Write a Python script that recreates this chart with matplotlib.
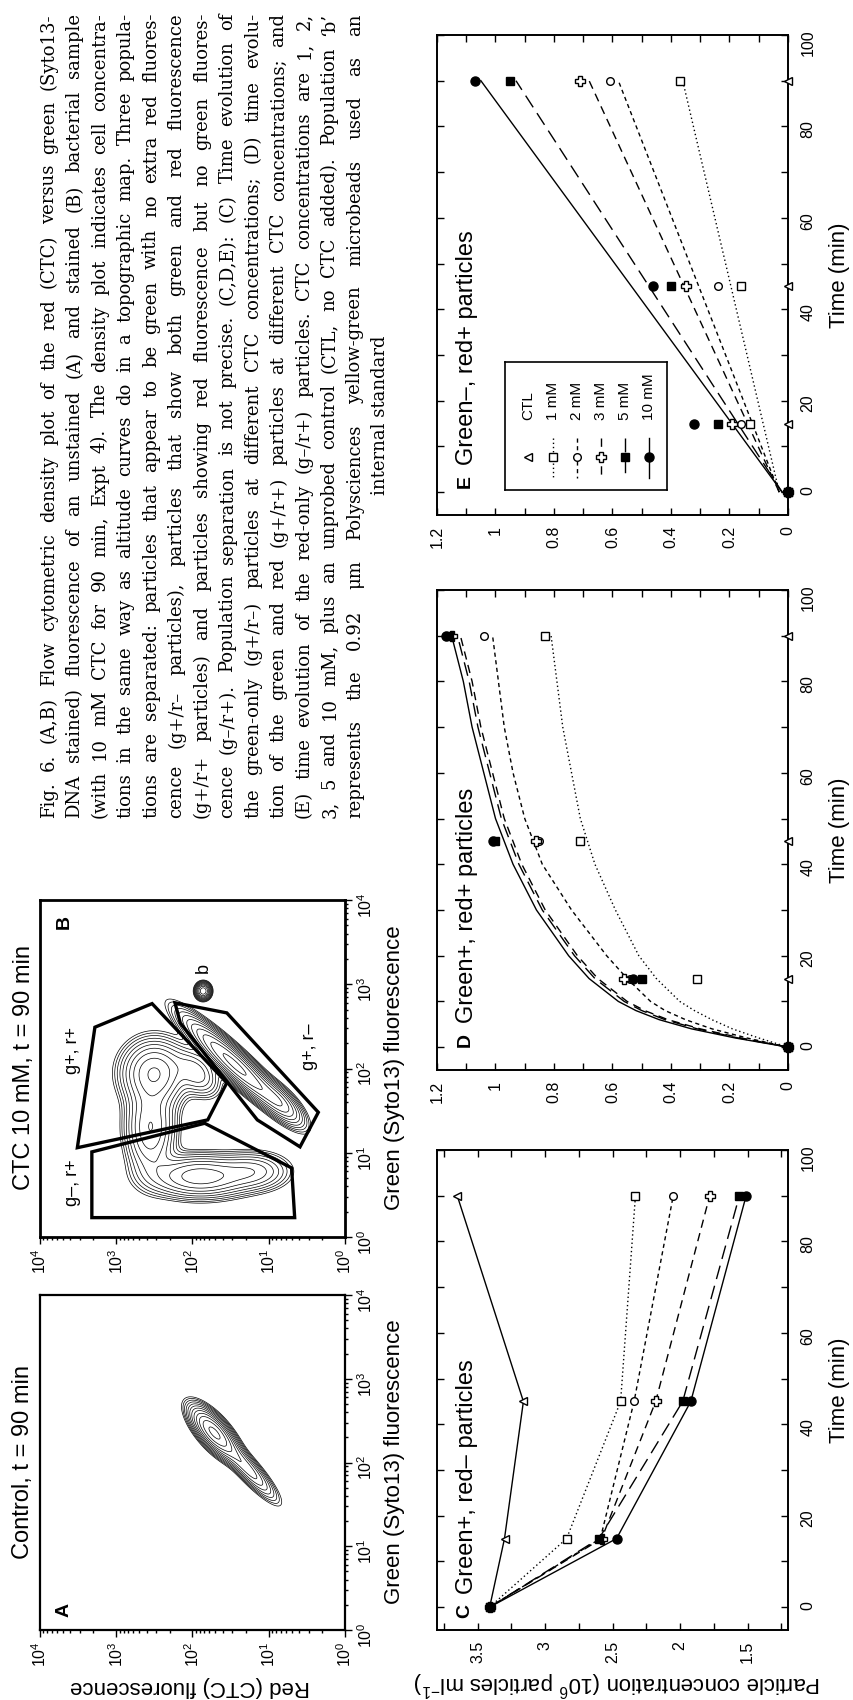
import numpy as np
import matplotlib
matplotlib.use("Agg")
import matplotlib.pyplot as plt
from matplotlib.ticker import MultipleLocator, LogLocator, FuncFormatter, NullFormatter
from matplotlib.font_manager import FontProperties

plt.rcParams['font.family'] = ['Liberation Sans', 'DejaVu Sans']
plt.rcParams['mathtext.fontset'] = 'custom'
plt.rcParams['mathtext.rm'] = 'Liberation Sans'
plt.rcParams['mathtext.it'] = 'Liberation Sans:italic'
plt.rcParams['mathtext.bf'] = 'Liberation Sans:bold'
plt.rcParams['lines.scale_dashes'] = False

# ---------------- data ----------------
series = ['CTL', '1 mM', '2 mM', '3 mM', '5 mM', '10 mM']
times = [0, 15, 45, 90]

# C: green+, red- particles (10^6 particles/ml)
c_ctl = [3.41, 3.30, 3.16, 3.65]
c_1mM = [3.41, 2.84, 2.44, 2.33]
c_2mM = [3.41, 2.59, 2.34, 2.05]
c_3mM = [3.41, 2.58, 2.18, 1.78]
c_5mM = [3.41, 2.60, 1.98, 1.56]
c_10mM = [3.41, 2.47, 1.92, 1.51]

# D: green+, red+ particles
d_ctl = [0, 0, 0, 0]
d_1mM = [0, 0.31, 0.71, 0.83]
d_2mM = [0, 0.54, 0.85, 1.04]
d_3mM = [0, 0.56, 0.86, 1.15]
d_5mM = [0, 0.50, 1.00, 1.16]
d_10mM = [0, 0.53, 1.01, 1.17]
# fitted curves in D
d_fit_t = [0, 2, 4, 6, 8, 10, 15, 20, 30, 40, 50, 60, 70, 80, 90]
d_fit_1mM = [0, 0.10, 0.19, 0.26, 0.32, 0.37, 0.45, 0.51, 0.59, 0.66, 0.71, 0.74, 0.77, 0.79, 0.81]
d_fit_2mM = [0, 0.14, 0.26, 0.35, 0.42, 0.47, 0.55, 0.62, 0.74, 0.84, 0.90, 0.94, 0.97, 0.99, 1.01]
d_fit_3mM = [0, 0.16, 0.30, 0.41, 0.49, 0.55, 0.65, 0.72, 0.83, 0.91, 0.97, 1.01, 1.05, 1.08, 1.12]
d_fit_5mM = [0, 0.17, 0.31, 0.42, 0.50, 0.56, 0.66, 0.73, 0.84, 0.92, 0.98, 1.02, 1.06, 1.09, 1.13]
d_fit_10mM = [0, 0.18, 0.33, 0.44, 0.52, 0.58, 0.68, 0.75, 0.86, 0.94, 1.00, 1.04, 1.08, 1.11, 1.15]

# E: green-, red+ particles
e_ctl = [0, 0, 0, 0]
e_1mM = [0, 0.13, 0.16, 0.37]
e_2mM = [0, 0.16, 0.24, 0.61]
e_3mM = [0, 0.19, 0.35, 0.71]
e_5mM = [0, 0.24, 0.40, 0.95]
e_10mM = [0, 0.32, 0.46, 1.07]
# fitted lines in E
e_fit_t = [0, 90]
e_fit_1mM = [0.03, 0.36]
e_fit_2mM = [0.03, 0.58]
e_fit_3mM = [0.03, 0.68]
e_fit_5mM = [0.02, 0.93]
e_fit_10mM = [0.02, 1.05]

# A/B density components, log10 units: red centre, green centre, sd along, sd across, angle, weight
a_red = [1.72, 1.30]
a_green = [2.36, 1.95]
a_sd_along = [0.20, 0.28]
a_sd_across = [0.08, 0.065]
a_angle = [45, 45]
a_weight = [1.0, 0.30]

b_red = [1.45, 0.85, 1.86, 2.50, 2.55, 1.90, 1.95, 1.20]
b_green = [2.05, 1.60, 2.92, 1.95, 1.30, 0.72, 1.95, 0.78]
b_sd_along = [0.42, 0.20, 0.05, 0.22, 0.30, 0.35, 0.18, 0.25]
b_sd_across = [0.08, 0.08, 0.05, 0.20, 0.17, 0.13, 0.12, 0.12]
b_angle = [40, 40, 0, 0, 90, 0, 40, 0]
b_weight = [1.0, 0.30, 0.60, 0.45, 0.32, 0.40, 0.20, 0.18]

# gates in B (log10 red, log10 green)
gate_gm_rp_red = [3.32, 1.84, 0.70, 0.66, 3.32]
gate_gm_rp_green = [1.01, 1.35, 0.82, 0.23, 0.23]
gate_gp_rp_red = [3.51, 3.28, 2.53, 1.55, 1.80]
gate_gp_rp_green = [1.06, 2.49, 2.77, 1.83, 1.39]
gate_gp_rm_red = [2.23, 1.55, 0.35, 0.59, 1.15, 2.16]
gate_gp_rm_green = [2.78, 2.66, 1.48, 1.07, 1.39, 2.54]

caption_lines = [
    "Fig. 6. (A,B) Flow cytometric density plot of the red (CTC) versus green (Syto13-",
    "DNA stained) fluorescence of an unstained (A) and stained (B) bacterial sample",
    "(with 10 mM CTC for 90 min, Expt 4). The density plot indicates cell concentra-",
    "tions in the same way as altitude curves do in a topographic map. Three popula-",
    "tions are separated: particles that appear to be green with no extra red fluores-",
    "cence (g+/r\u2013 particles), particles that show both green and red fluorescence",
    "(g+/r+ particles) and particles showing red fluorescence but no green fluores-",
    "cence (g\u2013/r+). Population separation is not precise. (C,D,E): (C) Time evolution of",
    "the green-only (g+/r\u2013) particles at different CTC concentrations; (D) time evolu-",
    "tion of the green and red (g+/r+) particles at different CTC concentrations; and",
    "(E) time evolution of the red-only (g\u2013/r+) particles. CTC concentrations are 1, 2,",
    "3, 5 and 10 mM, plus an unprobed control (CTL, no CTC added). Population \u2018b\u2019",
    "represents the 0.92 \u03bcm Polysciences yellow-green microbeads used as an",
    "internal standard",
]

# ---------------- styles ----------------
markers = ['<', 's', 'o', 'P', 's', 'o']
msizes = [6, 5.5, 5.5, 6.5, 6, 6.5]
faces = ['white', 'white', 'white', 'white', 'black', 'black']
dashes = ['-', (0, (1, 2)), (0, (3, 2.5)), (0, (6, 4)), (0, (10, 5)), '-']

W, H = 854, 1700
fig = plt.figure(figsize=(W / 100, H / 100), dpi=100)


def px_rect(x0, y0, x1, y1):
    return [x0 / W, 1 - y1 / H, (x1 - x0) / W, (y1 - y0) / H]


def ptext(x, y, s, **kw):
    return fig.text(x / W, 1 - y / H, s, **kw)


def time_panel(rect, vlim, vmajor, vminor):
    ax = fig.add_axes(px_rect(*rect))
    ax.set_xlim(*vlim)
    ax.set_ylim(-5, 100)
    ax.xaxis.set_major_locator(MultipleLocator(vmajor))
    ax.xaxis.set_minor_locator(MultipleLocator(vminor))
    ax.yaxis.set_major_locator(MultipleLocator(20))
    ax.yaxis.set_minor_locator(MultipleLocator(10))
    ax.xaxis.set_major_formatter(FuncFormatter(lambda v, p: '%g' % round(v, 3)))
    ax.tick_params(which='both', direction='in', top=True, bottom=True,
                   left=True, right=True, labelleft=False, labelright=True,
                   width=1.0, length=5)
    ax.tick_params(axis='x', labelrotation=90, labelsize=11.5, pad=8)
    ax.tick_params(axis='y', labelrotation=90, labelsize=11.5, pad=9)
    for sp in ax.spines.values():
        sp.set_linewidth(1.4)
    return ax


def density(cr, cg, sa, sc, ang, wt):
    grid = np.linspace(0, 4, 400)
    LR, LG = np.meshgrid(grid, grid)
    Z = np.zeros_like(LR)
    for r0, g0, a, c, th, w in zip(cr, cg, sa, sc, ang, wt):
        t = np.deg2rad(th)
        u = (LR - r0) * np.cos(t) + (LG - g0) * np.sin(t)
        v = -(LR - r0) * np.sin(t) + (LG - g0) * np.cos(t)
        Z += w * np.exp(-0.5 * ((u / a) ** 2 + (v / c) ** 2))
    return 10 ** LR, 10 ** LG, Z


def flow_panel(rect, frame_lw):
    ax = fig.add_axes(px_rect(*rect))
    ax.set_xscale('log')
    ax.set_yscale('log')
    ax.set_xlim(1e4, 1e0)
    ax.set_ylim(1e0, 1e4)
    for axis in (ax.xaxis, ax.yaxis):
        axis.set_major_locator(LogLocator(base=10, numticks=10))
        axis.set_minor_locator(LogLocator(base=10, subs=np.arange(2, 10), numticks=50))
        axis.set_minor_formatter(NullFormatter())
    ax.tick_params(which='both', direction='out', top=False, left=False,
                   bottom=True, right=True, labelleft=False, labelright=True,
                   width=1.0, labelsize=11.5, labelrotation=90)
    ax.tick_params(which='major', length=5, pad=3)
    ax.tick_params(which='minor', length=2.5)
    for sp in ax.spines.values():
        sp.set_linewidth(frame_lw)
    return ax


# ---------------- panel A ----------------
axA = flow_panel((40, 1295, 345, 1630), 1.6)
X, Y, Z = density(a_red, a_green, a_sd_along, a_sd_across, a_angle, a_weight)
axA.contour(X, Y, Z, levels=Z.max() * np.geomspace(0.02, 0.9, 12), colors='k', linewidths=0.5)

# ---------------- panel B ----------------
axB = flow_panel((40, 900, 345, 1237), 2.0)
X, Y, Z = density(b_red, b_green, b_sd_along, b_sd_across, b_angle, b_weight)
axB.contour(X, Y, Z, levels=Z.max() * np.geomspace(0.02, 0.9, 12), colors='k', linewidths=0.5)
for gr, gg in [(gate_gm_rp_red, gate_gm_rp_green), (gate_gp_rp_red, gate_gp_rp_green),
               (gate_gp_rm_red, gate_gp_rm_green)]:
    axB.fill(10 ** np.array(gr), 10 ** np.array(gg), fill=False, edgecolor='k', lw=2.4, joinstyle='miter')

# ---------------- panel C ----------------
axC = time_panel((437, 1150, 788, 1630), (3.8, 1.2), 0.5, 0.25)
for i, vals in enumerate([c_ctl, c_1mM, c_2mM, c_3mM, c_5mM, c_10mM]):
    axC.plot(vals, times, color='k', ls=dashes[i], lw=1.0, marker=markers[i],
             ms=msizes[i], mfc=faces[i], mec='k', mew=1.0, clip_on=False, zorder=3)

# ---------------- panel D ----------------
axD = time_panel((437, 590, 788, 1070), (1.2, 0), 0.2, 0.1)
for i, fit in enumerate([d_fit_1mM, d_fit_2mM, d_fit_3mM, d_fit_5mM, d_fit_10mM]):
    axD.plot(fit, d_fit_t, color='k', ls=dashes[i + 1], lw=1.0, zorder=2)
for i, vals in enumerate([d_ctl, d_1mM, d_2mM, d_3mM, d_5mM, d_10mM]):
    axD.plot(vals, times, ls='none', marker=markers[i], ms=msizes[i], mfc=faces[i],
             mec='k', mew=1.0, clip_on=False, zorder=3)

# ---------------- panel E ----------------
axE = time_panel((437, 35, 788, 515), (1.2, 0), 0.2, 0.1)
for i, fit in enumerate([e_fit_1mM, e_fit_2mM, e_fit_3mM, e_fit_5mM, e_fit_10mM]):
    axE.plot(fit, e_fit_t, color='k', ls=dashes[i + 1], lw=1.0, zorder=2)
for i, vals in enumerate([e_ctl, e_1mM, e_2mM, e_3mM, e_5mM, e_10mM]):
    axE.plot(vals, times, ls='none', marker=markers[i], ms=msizes[i], mfc=faces[i],
             mec='k', mew=1.0, clip_on=False, zorder=3)

# legend of E, drawn in its own little box (pixel coordinates)
lg = fig.add_axes(px_rect(505, 362, 667, 490))
lg.set_xlim(505, 667)
lg.set_ylim(490, 362)
lg.set_xticks([])
lg.set_yticks([])
for sp in lg.spines.values():
    sp.set_linewidth(1.2)
leg_x = [528, 553, 577, 601, 625, 649]
for i, name in enumerate(series):
    cx = leg_x[i]
    if i > 0:
        lg.plot([cx, cx], [438, 478], color='k', ls=dashes[i], lw=1.0)
    lg.plot([cx], [457], ls='none', marker=markers[i], ms=msizes[i], mfc=faces[i], mec='k', mew=1.0)
    lg.text(cx, 420, name, rotation=90, rotation_mode='anchor', ha='left', va='center', fontsize=11)

# ---------------- texts ----------------
ptext(23, 1462, 'Control, t = 90 min', rotation=90, ha='center', va='center', fontsize=17)
ptext(24, 1068, 'CTC 10 mM, t = 90 min', rotation=90, ha='center', va='center', fontsize=17)
ptext(64, 1610, 'A', rotation=90, ha='center', va='center', fontsize=14, weight='bold')
ptext(64, 922, 'B', rotation=90, ha='center', va='center', fontsize=14, weight='bold')
ptext(395, 1462, 'Green (Syto13) fluorescence', rotation=90, ha='center', va='center', fontsize=16)
ptext(395, 1068, 'Green (Syto13) fluorescence', rotation=90, ha='center', va='center', fontsize=16)
ptext(190, 1686, 'Red (CTC) fluorescence', rotation=180, ha='center', va='center', fontsize=16)
ptext(73, 1183, 'g\u2013, r+', rotation=90, ha='center', va='center', fontsize=13)
ptext(73, 1050, 'g+, r+', rotation=90, ha='center', va='center', fontsize=13)
ptext(310, 1047, 'g+, r\u2013', rotation=90, ha='center', va='center', fontsize=13)
ptext(203, 968, 'b', rotation=90, ha='center', va='center', fontsize=13)

for ycen, letter, title in [(1611, 'C', 'Green+, red\u2013 particles'),
                            (1040, 'D', 'Green+, red+ particles'),
                            (482, 'E', 'Green\u2013, red+ particles')]:
    ptext(465, ycen, letter, rotation=90, ha='center', va='center', fontsize=14, weight='bold')
    ptext(467, ycen - 17, title, rotation=90, rotation_mode='anchor', ha='left', va='center', fontsize=17)

for yc in (1390, 830, 275):
    ptext(840, yc, 'Time (min)', rotation=90, ha='center', va='center', fontsize=16)
ptext(617, 1683, r'Particle concentration (10$^{6}$ particles ml$^{-1}$)', rotation=180,
      ha='center', va='center', fontsize=16)

# ---------------- caption (justified, rotated) ----------------
renderer = fig.canvas.get_renderer()
cap_len = 805
cap_start = 818
fp = FontProperties(family='DejaVu Serif', size=13)


def tw(s, prop):
    return renderer.get_text_width_height_descent(s, prop, ismath=False)[0]


widest = max(tw(l, fp) for l in caption_lines[:-1])
if widest > cap_len * 0.985:
    fp = FontProperties(family='DejaVu Serif', size=13 * cap_len * 0.985 / widest)

for k, line in enumerate(caption_lines):
    xb = 54 + k * 25.5
    if k == len(caption_lines) - 1:
        ptext(xb, 415 + tw(line, fp) / 2, line, rotation=90, rotation_mode='anchor',
              ha='left', va='baseline', fontproperties=fp)
        continue
    words = line.split(' ')
    ws = [tw(w_, fp) for w_ in words]
    gap = (cap_len - sum(ws)) / (len(words) - 1)
    y = cap_start
    for w_, wl in zip(words, ws):
        ptext(xb, y, w_, rotation=90, rotation_mode='anchor', ha='left', va='baseline', fontproperties=fp)
        y -= wl + gap

fig.savefig('out.png', dpi=100)
